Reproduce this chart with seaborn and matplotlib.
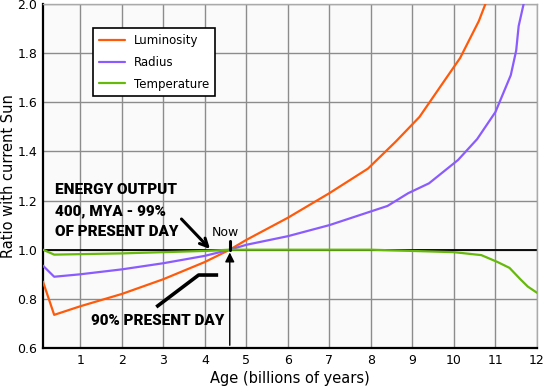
import matplotlib
matplotlib.use('Agg')
import matplotlib.pyplot as plt
import seaborn as sns
import pandas as pd

# Sun evolution, ratios with present-day values
lum_age = [0.1, 0.37, 1, 2, 3, 4, 4.6, 5, 6, 7, 7.93, 8.6, 9.17, 9.7, 10.15, 10.6, 10.76, 10.9]
lum_val = [0.87, 0.735, 0.77, 0.82, 0.88, 0.95, 1.0, 1.04, 1.13, 1.23, 1.33, 1.44, 1.54, 1.67, 1.78, 1.93, 2.0, 2.06]

rad_age = [0.1, 0.37, 1, 2, 3, 4, 4.6, 5, 6, 7, 8.4, 8.9, 9.4, 10.1, 10.56, 11.0, 11.37, 11.5, 11.56, 11.68, 11.75]
rad_val = [0.935, 0.89, 0.90, 0.92, 0.945, 0.975, 1.0, 1.02, 1.055, 1.10, 1.178, 1.23, 1.27, 1.365, 1.45, 1.56, 1.71, 1.81, 1.91, 2.0, 2.05]

temp_age = [0.1, 0.37, 1, 2, 3, 4, 4.6, 6, 8, 9, 10, 10.66, 11.05, 11.34, 11.6, 11.78, 12]
temp_val = [1.0, 0.98, 0.982, 0.985, 0.99, 0.995, 1.0, 1.0, 1.0, 0.995, 0.99, 0.978, 0.95, 0.926, 0.88, 0.85, 0.825]

x_ticks = list(range(1, 13))
y_ticks = [0.6, 0.8, 1.0, 1.2, 1.4, 1.6, 1.8, 2.0]

sns.set_style('whitegrid')
plt.rcParams['font.family'] = ['DejaVu Sans']
plt.rcParams['text.color'] = 'black'
plt.rcParams['axes.labelcolor'] = 'black'
plt.rcParams['xtick.color'] = 'black'
plt.rcParams['ytick.color'] = 'black'

big_kw = dict(family=['Roboto', 'DejaVu Sans'], fontweight='black', fontsize=11)

fig = plt.figure(figsize=(5.44, 3.88), dpi=100)
ax = fig.add_axes([0.079, 0.103, 0.908, 0.887])
ax.set_facecolor('#fafafa')

df = pd.concat([
    pd.DataFrame({'age': lum_age, 'ratio': lum_val, 'series': 'Luminosity'}),
    pd.DataFrame({'age': rad_age, 'ratio': rad_val, 'series': 'Radius'}),
    pd.DataFrame({'age': temp_age, 'ratio': temp_val, 'series': 'Temperature'}),
])
palette = {'Luminosity': '#ff5a0a', 'Radius': '#8a5cff', 'Temperature': '#66b80a'}

ax.axhline(1.0, color='black', lw=1.3, zorder=1)
sns.lineplot(data=df, x='age', y='ratio', hue='series', palette=palette,
             sort=False, estimator=None, lw=1.6, ax=ax, zorder=3)

ax.set_xlim(0.1, 12)
ax.set_ylim(0.6, 2.0)
ax.set_xticks(x_ticks)
ax.set_yticks(y_ticks)
ax.set_yticklabels([f'{v:.1f}' for v in y_ticks])
ax.tick_params(labelsize=9, length=0, pad=4)
ax.grid(True, color='#8c8c8c', lw=1.0)
ax.set_axisbelow(True)
for s in ['left', 'bottom']:
    ax.spines[s].set_color('black')
    ax.spines[s].set_linewidth(1.6)
for s in ['top', 'right']:
    ax.spines[s].set_color('#aaaaaa')
    ax.spines[s].set_linewidth(1.0)

ax.set_xlabel('Age (billions of years)', fontsize=10.5, labelpad=3)
ax.set_ylabel('Ratio with current Sun', fontsize=10.5, labelpad=1)

leg = ax.legend(loc='upper left', bbox_to_anchor=(0.101, 0.93), fontsize=8.5,
                frameon=True, fancybox=False, edgecolor='black', borderaxespad=0,
                framealpha=1, handlelength=2.2, borderpad=0.5, labelspacing=0.75)
leg.get_frame().set_linewidth(1.2)

ax.text(0.38, 1.158, 'ENERGY OUTPUT\n400, MYA - 99%\nOF PRESENT DAY',
        va='center', ha='left', linespacing=1.65,
        color='black', zorder=5, **big_kw)
ax.text(1.25, 0.712, '90% PRESENT DAY',
        va='center', ha='left', color='black', zorder=5, **big_kw)

# arrow to 400 MYA point
ax.annotate('', xy=(4.17, 0.995), xytext=(3.39, 1.133),
            arrowprops=dict(arrowstyle='->', lw=2.2, color='black',
                            mutation_scale=14), zorder=6)
# line from the 90% label
ax.plot([2.83, 3.85, 4.32], [0.767, 0.897, 0.897], color='black', lw=2.6,
        zorder=6, solid_capstyle='butt')
# now marker
ax.plot([4.6, 4.6], [1.0, 1.035], color='black', lw=2.2, zorder=6)
ax.annotate('', xy=(4.6, 1.0), xytext=(4.6, 0.6),
            arrowprops=dict(arrowstyle='-|>', lw=1.0, color='black',
                            mutation_scale=14), zorder=6)
ax.text(4.5, 1.07, 'Now', fontsize=9, ha='center', va='center', zorder=6)

fig.savefig('out.png', dpi=100)
